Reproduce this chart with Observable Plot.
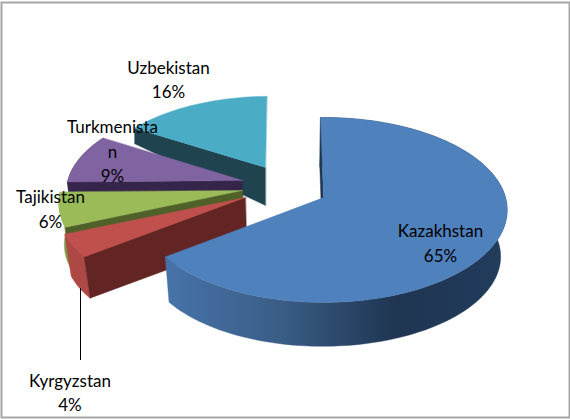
<!DOCTYPE html>
<html>
<head>
<meta charset="utf-8">
<script src="https://cdn.jsdelivr.net/npm/d3@7"></script>
<script src="https://cdn.jsdelivr.net/npm/@observablehq/plot@0.6"></script>
<style>html,body{margin:0;padding:0;background:#fff}svg{display:block}</style>
</head>
<body>
<div id="chart"></div>
<script>
// Values, clockwise from the top of the pie
const countries = ["Kazakhstan", "Kyrgyzstan", "Tajikistan", "Turkmenistan", "Uzbekistan"];
const shares = [65, 4, 6, 9, 16];
const labelNames = ["Kazakhstan", "Kyrgyzstan", "Tajikistan", "Turkmenista\nn", "Uzbekistan"];

// Colours
const faceColors = ["#4f81bd", "#c0504d", "#9bbb59", "#8064a2", "#4bacc6"];
const sideColors = ["#1f3552", "#632523", "#4f6128", "#35254a", "#1f4450"];
const rimColors = ["url(#rimBlue)", "#ae4845", "#7f9a45", "#35254a", "#1f4450"];

// 3-D layout of the exploded pie (hub offsets, perspective, extrusion)
const hubX = [0, -78, -81, -81, -58];
const hubY = [0, 0, -7, -17, -30];
const faceScale = [1, 1, 1, 0.96, 0.89];
const faceStretchX = [1, 1.02, 1, 1, 1.03];
const faceShear = [0, 0, 0, 0, -0.056];
const depth = [47, 43, 42, 40, 38];
const dropX = [-1, 1, 0, 0, 0];
const baseScaleX = [0.97, 0.97, 0.97, 0.97, 1];
const baseScaleY = [0.97, 0.97, 0.97, 0.97, 1.57];
const hasRim = [true, true, true, true, false];
const radiusX = 182, radiusY = 90.8, tilt = 0.135, startAngle = -1;

// Label placement
const labelX = [440, 69.5, 50, 112, 168];
const labelY = [241, 390.5, 207, 149.5, 77.5];
const leaderX = 80 - 323, leaderY = [288 - 197, 360 - 197];

const rad = Math.PI / 180;
function project(deg, i, base) {
  const u = Math.sin(deg * rad), v = -Math.cos(deg * rad), w = 1 - tilt * v;
  const s = faceScale[i];
  const py = radiusY * v / w * s;
  const px = radiusX * u / w * s * faceStretchX[i] + faceShear[i] * py;
  return base
    ? [hubX[i] + dropX[i] + px * baseScaleX[i], hubY[i] + depth[i] + py * baseScaleY[i]]
    : [hubX[i] + px, hubY[i] + py];
}
function arc(a0, a1, i, base) {
  const n = Math.max(2, Math.ceil(Math.abs(a1 - a0) / 2));
  return d3.range(n + 1).map(k => project(a0 + (a1 - a0) * k / n, i, base));
}
function hub(i, base) {
  return base ? [hubX[i] + dropX[i], hubY[i] + depth[i]] : [hubX[i], hubY[i]];
}

let cursor = startAngle;
const slices = shares.map((share, i) => {
  const a0 = cursor, a1 = cursor + share * 3.6;
  cursor = a1;
  return {i, a0, a1};
});

const poly = (points, fill) =>
  Plot.line(points, {x: d => d[0], y: d => d[1], curve: "linear-closed", fill, stroke: fill, strokeWidth: 0.4});

const drawOrder = [4, 3, 2, 1, 0];
const sliceMarks = drawOrder.flatMap(i => {
  const {a0, a1} = slices[i];
  const out = [];
  if (hasRim[i]) {
    out.push(poly([...arc(a0, a1, i, false), ...arc(a1, a0, i, true)], rimColors[i]));
  }
  out.push(poly([hub(i, false), project(a0, i, false), project(a0, i, true), hub(i, true)], sideColors[i]));
  out.push(poly([hub(i, false), ...arc(a0, a1, i, false)], faceColors[i]));
  return out;
});

const defs = () => {
  const d = d3.create("svg:defs");
  const g = d.append("linearGradient").attr("id", "rimBlue")
    .attr("gradientUnits", "userSpaceOnUse")
    .attr("x1", 171).attr("x2", 501).attr("y1", 0).attr("y2", 0);
  [[0, "#4672a8"], [0.33, "#3a5d86"], [0.68, "#1f3552"], [1, "#223c5c"]].forEach(([o, c]) =>
    g.append("stop").attr("offset", o).attr("stop-color", c));
  return d.node();
};

const labels = countries.map((c, i) => ({
  text: `${labelNames[i]}\n${shares[i]}%`,
  x: labelX[i] - 323,
  y: labelY[i] - 197
}));

const chart = Plot.plot({
  width: 570,
  height: 419,
  margin: 0,
  x: {domain: [-323, 247], range: [0, 570], axis: null},
  y: {domain: [-197, 222], range: [0, 419], axis: null},
  style: {background: "#fff"},
  marks: [
    defs,
    Plot.frame({stroke: "#a6a6a6", strokeWidth: 2, insetLeft: 1, insetRight: 1, insetTop: 2, insetBottom: 2}),
    ...sliceMarks,
    Plot.ruleX([leaderX], {y1: leaderY[0], y2: leaderY[1], stroke: "#000", strokeWidth: 1}),
    Plot.text(labels, {
      x: "x", y: "y", text: "text",
      fontFamily: "Lato", fontSize: 17, lineHeight: 1.44,
      fill: "#000", textAnchor: "middle", lineAnchor: "middle"
    })
  ]
});
document.getElementById("chart").append(chart);
</script>
</body>
</html>
